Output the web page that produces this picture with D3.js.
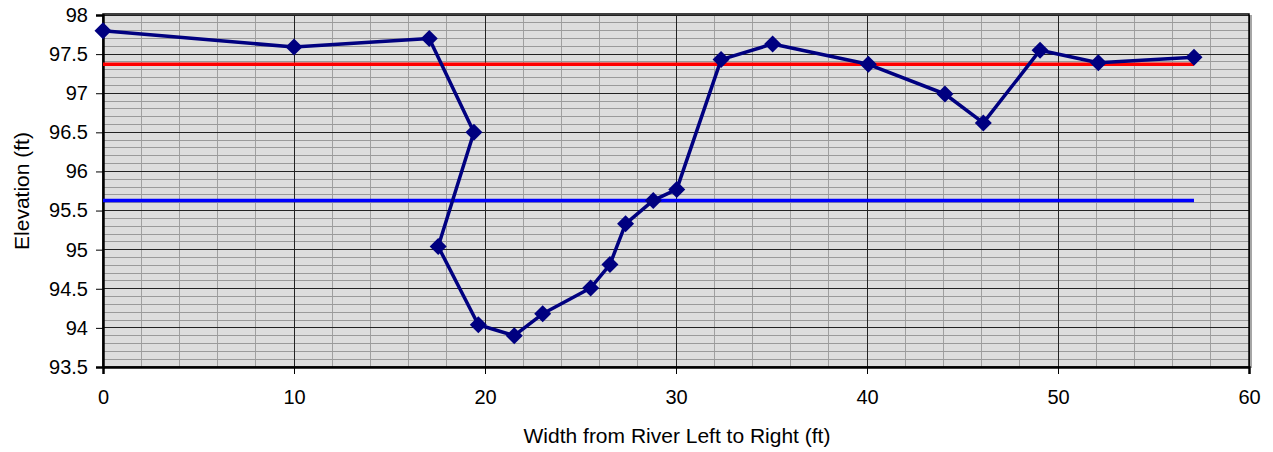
<!DOCTYPE html>
<html>
<head>
<meta charset="utf-8">
<script src="https://cdn.jsdelivr.net/npm/d3@7"></script>
<style>
  html, body { margin: 0; padding: 0; background: #ffffff; }
  svg { display: block; font-family: "Liberation Sans", Arial, sans-serif; }
</style>
</head>
<body>
<svg id="chart" width="1273" height="452"></svg>
<script>
// ---- data ----
const widthFt = [0, 10, 17.08, 19.42, 17.55, 19.65, 21.53, 23.02, 25.53, 26.54, 27.36, 28.81, 30.04, 32.36, 35.06, 40.07, 44.08, 46.09, 49.06, 52.11, 57.12];
const elevFt  = [97.8, 97.59, 97.7, 96.5, 95.04, 94.04, 93.9, 94.18, 94.51, 94.81, 95.33, 95.63, 95.77, 97.43, 97.63, 97.37, 96.99, 96.62, 97.55, 97.39, 97.46];
const redLevel = 97.37;
const blueLevel = 95.63;
const levelStartX = 0;
const levelEndX = 57.12;
const xTicks = [0, 10, 20, 30, 40, 50, 60];
const yTicks = [93.5, 94, 94.5, 95, 95.5, 96, 96.5, 97, 97.5, 98];
const xTitle = "Width from River Left to Right (ft)";
const yTitle = "Elevation (ft)";

// ---- layout ----
const L = 103, R = 1249, T = 15, B = 367;
const svg = d3.select("#chart");
const x = d3.scaleLinear().domain([0, 60]).range([L, R]);
const y = d3.scaleLinear().domain([93.5, 98]).range([B, T]);

// background
svg.append("rect").attr("x", L).attr("y", T).attr("width", R - L).attr("height", B - T)
  .attr("fill", "#dddddd");

// minor grid
const g = svg.append("g");
d3.range(0, 60.001, 2).forEach(v => {
  if (v % 10 !== 0) g.append("line").attr("x1", x(v)).attr("x2", x(v)).attr("y1", T).attr("y2", B)
    .attr("stroke", "#a0a0a0").attr("stroke-width", 1).attr("shape-rendering", "crispEdges");
});
d3.range(0, 46, 1).map(i => 93.5 + i * 0.1).forEach((v, i) => {
  if (i % 5 !== 0) g.append("line").attr("x1", L).attr("x2", R).attr("y1", y(v)).attr("y2", y(v))
    .attr("stroke", "#9a9a9a").attr("stroke-width", 1).attr("shape-rendering", "crispEdges");
});
// major grid
xTicks.forEach(v => g.append("line").attr("x1", x(v)).attr("x2", x(v)).attr("y1", T).attr("y2", B)
  .attr("stroke", "#222").attr("stroke-width", 1).attr("shape-rendering", "crispEdges"));
yTicks.forEach(v => g.append("line").attr("x1", L).attr("x2", R).attr("y1", y(v)).attr("y2", y(v))
  .attr("stroke", "#222").attr("stroke-width", 1).attr("shape-rendering", "crispEdges"));

// border
svg.append("rect").attr("x", L).attr("y", T - 1).attr("width", R - L).attr("height", B - T + 1)
  .attr("fill", "none").attr("stroke", "#000").attr("stroke-width", 1.5);
svg.append("line").attr("x1", R + 2).attr("x2", R + 2).attr("y1", T).attr("y2", B + 1)
  .attr("stroke", "#888").attr("stroke-width", 1.5);

// axes
const xAxis = d3.axisBottom(x).tickValues(xTicks).tickSize(7).tickPadding(16).tickFormat(d3.format("d"));
const yAxis = d3.axisLeft(y).tickValues(yTicks).tickSize(7).tickPadding(8).tickFormat(d => String(d));
const gx = svg.append("g").attr("transform", `translate(0,${B})`).call(xAxis);
const gy = svg.append("g").attr("transform", `translate(${L},0)`).call(yAxis);
[gx, gy].forEach(a => {
  a.select(".domain").attr("stroke", "#000").attr("stroke-width", 2.5);
  a.selectAll(".tick line").attr("stroke", "#000").attr("stroke-width", 1);
  a.selectAll(".tick text").attr("fill", "#000").style("font-size", "20px")
    .style("font-family", "'Liberation Sans', Arial, sans-serif");
});

// level lines
svg.append("line").attr("x1", x(levelStartX)).attr("x2", x(levelEndX))
  .attr("y1", y(redLevel)).attr("y2", y(redLevel)).attr("stroke", "#ff0000").attr("stroke-width", 3.5);
svg.append("line").attr("x1", x(levelStartX)).attr("x2", x(levelEndX))
  .attr("y1", y(blueLevel)).attr("y2", y(blueLevel)).attr("stroke", "#0000ff").attr("stroke-width", 3.5);

// series
const pts = widthFt.map((w, i) => [w, elevFt[i]]);
svg.append("path").datum(pts)
  .attr("d", d3.line().x(d => x(d[0])).y(d => y(d[1])))
  .attr("fill", "none").attr("stroke", "#000080").attr("stroke-width", 3.5).attr("stroke-linejoin", "round");
const s = 8.5;
svg.append("g").selectAll("path").data(pts).join("path")
  .attr("d", d => `M${x(d[0])},${y(d[1]) - s}L${x(d[0]) + s},${y(d[1])}L${x(d[0])},${y(d[1]) + s}L${x(d[0]) - s},${y(d[1])}Z`)
  .attr("fill", "#000080");

// titles
svg.append("text").attr("x", (L + R) / 2 + 1).attr("y", 443).attr("text-anchor", "middle")
  .style("font-size", "21px").attr("fill", "#000").text(xTitle);
svg.append("text").attr("transform", `translate(29,${(T + B) / 2}) rotate(-90)`).attr("text-anchor", "middle")
  .style("font-size", "21px").attr("fill", "#000").text(yTitle);
</script>
</body>
</html>
